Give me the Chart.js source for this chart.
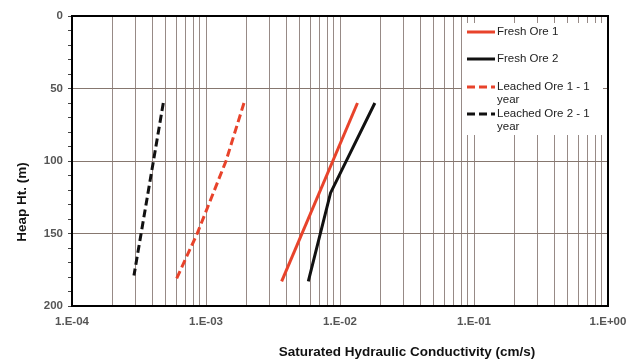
<!DOCTYPE html>
<html>
<head>
<meta charset="utf-8">
<script src="https://cdn.jsdelivr.net/npm/chart.js@4.4.1/dist/chart.umd.min.js"></script>
<style>
  html, body { margin:0; padding:0; background:#fff; }
  #wrap { width:629px; height:361px; }
</style>
</head>
<body>
<div id="wrap"><canvas id="chart" width="629" height="361"></canvas></div>
<script>
// values (K in cm/s, height in m)
const freshOre1K = [1.35e-2, 3.67e-3];
const freshOre1H = [60, 183];
const freshOre2K = [1.82e-2, 8.5e-3, 5.8e-3];
const freshOre2H = [60, 122, 183];
const leachedOre1K = [1.92e-3, 1.41e-3, 8.6e-4, 5.97e-4];
const leachedOre1H = [60, 100, 150, 182];
const leachedOre2K = [4.8e-4, 2.9e-4];
const leachedOre2H = [60, 179];

const seriesNames = ['Fresh Ore 1', 'Fresh Ore 2', 'Leached Ore 1 - 1 year', 'Leached Ore 2 - 1 year'];
const legendLines = [['Fresh Ore 1'], ['Fresh Ore 2'], ['Leached Ore 1 - 1', 'year'], ['Leached Ore 2 - 1', 'year']];
const decades = [-4, -3, -2, -1, 0];
const yLabels = [0, 50, 100, 150, 200];
const yMinorStep = 10;

const RED = '#e8432b', BLACK = '#111';
const pts = (k, h) => k.map((v, i) => ({ x: v, y: h[i] }));

function kLabel(v){
  const e = Math.round(Math.log10(v));
  const s = e < 0 ? '-' : '+';
  return '1.E' + s + String(Math.abs(e)).padStart(2, '0');
}

const frame = {
  id: 'frame',
  afterDatasetsDraw(chart){
    const { ctx, chartArea: a } = chart;
    ctx.save();
    ctx.strokeStyle = '#000';
    ctx.lineWidth = 2;
    ctx.strokeRect(a.left, a.top, a.right - a.left, a.bottom - a.top);

    // legend box
    ctx.fillStyle = '#fff';
    ctx.fillRect(462, 23, 141, 112);
    const rows = [32, 59, 87, 114];
    chart.data.datasets.forEach((ds, i) => {
      const y = rows[i];
      ctx.strokeStyle = ds.borderColor;
      ctx.lineWidth = 3;
      ctx.setLineDash(ds.borderDash || []);
      ctx.beginPath();
      ctx.moveTo(467, y);
      ctx.lineTo(495, y);
      ctx.stroke();
      ctx.setLineDash([]);
      ctx.fillStyle = '#222';
      ctx.font = '11.5px "Liberation Sans", Arial, sans-serif';
      ctx.textBaseline = 'middle';
      ctx.textAlign = 'left';
      legendLines[i].forEach((t, j) => ctx.fillText(t, 497, y + j * 13));
    });

    // axis titles
    ctx.fillStyle = '#111';
    ctx.font = 'bold 13.5px "Liberation Sans", Arial, sans-serif';
    ctx.textAlign = 'center';
    ctx.textBaseline = 'middle';
    ctx.fillText('Saturated Hydraulic Conductivity (cm/s)', 407, 352);
    ctx.translate(22, 202);
    ctx.rotate(-Math.PI / 2);
    ctx.fillText('Heap Ht. (m)', 0, 0);
    ctx.restore();
  }
};

new Chart(document.getElementById('chart'), {
  type: 'line',
  data: {
    datasets: [
      { label: seriesNames[0], data: pts(freshOre1K, freshOre1H), borderColor: RED, borderWidth: 3 },
      { label: seriesNames[1], data: pts(freshOre2K, freshOre2H), borderColor: BLACK, borderWidth: 3 },
      { label: seriesNames[2], data: pts(leachedOre1K, leachedOre1H), borderColor: RED, borderWidth: 3, borderDash: [8, 4] },
      { label: seriesNames[3], data: pts(leachedOre2K, leachedOre2H), borderColor: BLACK, borderWidth: 3, borderDash: [8, 4] }
    ]
  },
  options: {
    responsive: false,
    animation: false,
    layout: { padding: { top: 16, right: 21, left: 0, bottom: 0 } },
    elements: { point: { radius: 0 }, line: { tension: 0, borderCapStyle: 'butt' } },
    plugins: { legend: { display: false }, tooltip: { enabled: false } },
    scales: {
      x: {
        type: 'logarithmic',
        min: 1e-4, max: 1,
        afterBuildTicks(scale){
          const t = [];
          decades.forEach(d => {
            for (let m = 1; m <= 9; m++) {
              if (d === 0 && m > 1) break;
              t.push({ value: m * Math.pow(10, d) });
            }
          });
          scale.ticks = t;
        },
        afterFit(scale){ scale.height = 55; scale.paddingLeft = 0; scale.paddingRight = 0; },
        grid: { color: '#978a86', lineWidth: 1, drawTicks: false },
        border: { color: '#000', width: 2 },
        ticks: {
          autoSkip: false, maxRotation: 0, padding: 9,
          color: '#555',
          font: { family: '"Liberation Sans", Arial, sans-serif', size: 11.5, weight: 'bold' },
          callback(v){
            const l = Math.log10(v);
            return Math.abs(l - Math.round(l)) < 1e-9 ? kLabel(v) : '';
          }
        }
      },
      y: {
        type: 'linear',
        reverse: true,
        min: 0, max: 200,
        afterBuildTicks(scale){
          const t = [];
          for (let v = scale.min; v <= scale.max; v += yMinorStep) t.push({ value: v });
          scale.ticks = t;
        },
        afterFit(scale){ scale.width = 72; scale.paddingTop = 0; scale.paddingBottom = 0; },
        grid: {
          color: c => yLabels.includes(c.tick.value) ? '#86776f' : 'rgba(0,0,0,0)',
          tickColor: '#444', tickLength: 4, lineWidth: 1
        },
        border: { color: '#000', width: 2 },
        ticks: {
          autoSkip: false, padding: 5, color: '#555',
          font: { family: '"Liberation Sans", Arial, sans-serif', size: 11.5, weight: 'bold' },
          callback: v => yLabels.includes(v) ? String(v) : ''
        }
      }
    }
  },
  plugins: [frame]
});
</script>
</body>
</html>
